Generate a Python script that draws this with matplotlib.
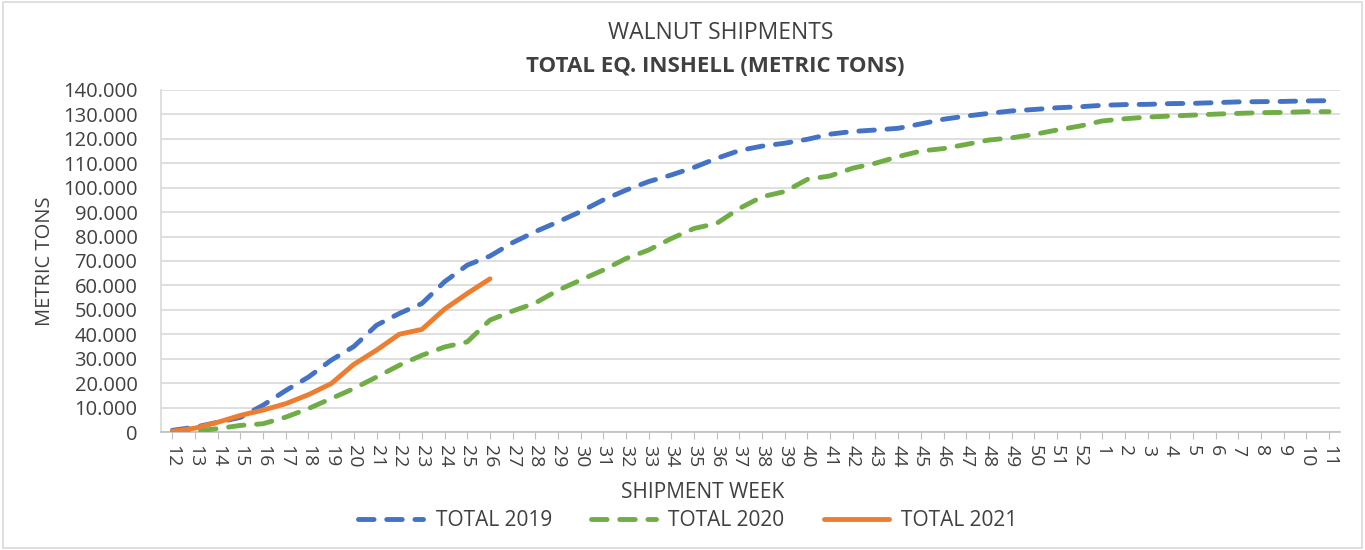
import matplotlib
matplotlib.use("Agg")
import matplotlib.pyplot as plt
from matplotlib.patches import Rectangle

plt.rcParams['font.family'] = ['Open Sans', 'DejaVu Sans']

weeks = [str(w) for w in range(12, 53)] + [str(w) for w in range(1, 12)]

total_2019 = [700, 2000, 4000, 6000, 11000, 17000, 22500, 29400, 35000, 43700,
              48500, 52600, 61500, 68300, 72000, 77500, 82000, 86000, 90200, 95000,
              99000, 102500, 105200, 108300, 112000, 115200, 117000, 118200, 119800, 121900,
              123000, 123600, 124300, 126100, 128000, 129300, 130400, 131400, 132000, 132700,
              133100, 133700, 134000, 134100, 134400, 134500, 134800, 135100, 135200, 135300,
              135500, 135600]
total_2020 = [0, 400, 1400, 2700, 3400, 6100, 9600, 13700, 17800, 22500,
              27300, 31400, 34800, 36900, 45800, 49500, 52800, 58000, 62200, 66300,
              71000, 74500, 79200, 83300, 85400, 91500, 96300, 98400, 103400, 104800,
              108000, 110000, 112700, 115000, 116000, 117700, 119500, 120400, 121800, 123600,
              125200, 127300, 128200, 128900, 129300, 129700, 130100, 130400, 130700, 130800,
              131100, 131100]
total_2021 = [300, 1600, 4000, 6800, 9000, 11600, 15300, 19800, 27700, 33500,
              40000, 42000, 50300, 56700, 62700]

TXT = '#404040'
fig = plt.figure(figsize=(13.65, 5.5), dpi=100)
fig.patches.append(Rectangle((0.002, 0.004), 0.996, 0.992, transform=fig.transFigure,
                             fill=False, edgecolor='#d9d9d9', linewidth=1.2))
ax = fig.add_axes([0.118, 0.2145, 0.864, 0.622])

x = list(range(len(weeks)))
ax.plot(x, total_2019, color='#4472C4', linewidth=3.5, linestyle=(0, (3.2, 2.6)),
        dash_capstyle='round', label='TOTAL 2019', zorder=3)
ax.plot(x, total_2020, color='#70AD47', linewidth=3.5, linestyle=(0, (3.2, 2.6)),
        dash_capstyle='round', label='TOTAL 2020', zorder=3)
ax.plot(x[:len(total_2021)], total_2021, color='#ED7D31', linewidth=3.5,
        solid_capstyle='round', solid_joinstyle='round', label='TOTAL 2021', zorder=4)

ax.set_xlim(-0.5, len(weeks) - 0.5)
ax.set_ylim(0, 140000)
yt = list(range(0, 140001, 10000))
ax.set_yticks(yt)
ax.set_yticklabels(['0'] + [f"{v // 1000}.000" for v in yt[1:]], fontsize=14.5, color=TXT)
ax.set_xticks(x)
ax.set_xticklabels(weeks, rotation=270, fontsize=14, color=TXT)
ax.tick_params(axis='y', length=0, pad=17)
ax.tick_params(axis='x', length=5, color='#bfbfbf', pad=4)
ax.grid(axis='y', color='#d9d9d9', linewidth=1.2)
ax.set_axisbelow(True)
for s in ['top', 'right']:
    ax.spines[s].set_visible(False)
ax.spines['left'].set_color('#d9d9d9')
ax.spines['bottom'].set_color('#bfbfbf')
ax.spines['left'].set_linewidth(1.2)
ax.spines['bottom'].set_linewidth(1.2)

fig.text(45 / 1365, 0.525, 'METRIC TONS', rotation=90, ha='center', va='center',
         fontsize=14.5, color=TXT)
fig.text(703 / 1365, 1 - 492 / 550, 'SHIPMENT WEEK', ha='center', va='center', fontsize=15, color=TXT)
fig.text(721 / 1365, 1 - 33 / 550, 'WALNUT SHIPMENTS', ha='center', va='center', fontsize=16.5, color=TXT)
fig.text(715 / 1365, 1 - 66 / 550, 'TOTAL EQ. INSHELL (METRIC TONS)', ha='center', va='center',
         fontsize=16, fontweight='bold', color=TXT)

fig.legend(loc='center', bbox_to_anchor=(688 / 1365, 1 - 521 / 550), ncol=3, frameon=False,
           fontsize=15, handlelength=3.1, handletextpad=0.6, columnspacing=1.9, labelcolor=TXT)

fig.savefig('out.png', dpi=100)
